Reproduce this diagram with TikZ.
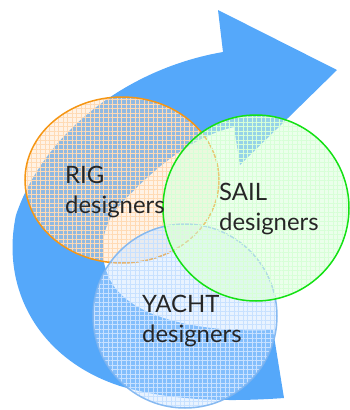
\documentclass[tikz,border=0pt]{standalone}
\usepackage{fontspec}
\setmainfont{Lato}
\usetikzlibrary{patterns.meta}
\begin{document}
\begin{tikzpicture}[x=1bp,y=-1bp,
  lbl/.style={anchor=base west,align=left,inner sep=0,font=\fontsize{24}{30}\selectfont,text=black!85},
  ring/.style={line width=1.5bp},
  hgrid/.style={pattern={Lines[angle=0,distance=4.5bp,line width=0.7bp]},pattern color=#1},
  vgrid/.style={pattern={Lines[angle=90,distance=4.5bp,line width=0.7bp]},pattern color=#1}]
\useasboundingbox (0,0) rectangle (350,410);
\definecolor{arrowblue}{RGB}{85,168,250}
\definecolor{rigfill}{RGB}{255,218,180}
\definecolor{rigline}{RGB}{245,150,20}
\definecolor{sailfill}{RGB}{215,255,215}
\definecolor{sailline}{RGB}{20,225,20}
\definecolor{yfill}{RGB}{200,225,255}
\definecolor{yline}{RGB}{125,180,240}
% arrow
\fill[arrowblue] (284,398) -- (273,330)
  .. controls (200,333) and (135,318) .. (113,285)
  .. controls (97,260) and (100,225) .. (120,205)
  .. controls (150,172) and (190,137) .. (234,127)
  -- (240,165) -- (337,70) -- (218,10) -- (223,52)
  .. controls (130,68) and (45,130) .. (16,215)
  .. controls (0,290) and (40,360) .. (120,386)
  .. controls (170,401) and (230,402) .. (284,398) -- cycle;
% RIG circle
\fill[rigfill,fill opacity=0.35] (122,180) ellipse [x radius=97,y radius=83];
\fill[hgrid=rigfill,fill opacity=0.5] (122,180) ellipse [x radius=97,y radius=83];
\fill[vgrid=rigfill,fill opacity=0.5] (122,180) ellipse [x radius=97,y radius=83];
\draw[ring,draw=rigline] (122,180) ellipse [x radius=97,y radius=83];
% YACHT circle
\fill[yfill,fill opacity=0.4] (185,316) circle [radius=92];
\fill[hgrid=yfill,fill opacity=0.4] (185,316) circle [radius=92];
\fill[vgrid=yfill,fill opacity=0.4] (185,316) circle [radius=92];
\draw[ring,draw=yline,draw opacity=0.9] (185,316) circle [radius=92];
% SAIL circle
\fill[sailfill,fill opacity=0.5] (256,208) circle [radius=93];
\fill[hgrid=sailfill,fill opacity=0.5] (256,208) circle [radius=93];
\fill[vgrid=sailfill,fill opacity=0.5] (256,208) circle [radius=93];
\draw[ring,draw=sailline] (256,208) circle [radius=93];
% labels
\node[lbl] (rig) at (65,213) {RIG\\designers};
\node[lbl] (sail) at (219,230) {SAIL\\designers};
\node[lbl] (yacht) at (142,342) {YACHT\\designers};
\end{tikzpicture}
\end{document}
